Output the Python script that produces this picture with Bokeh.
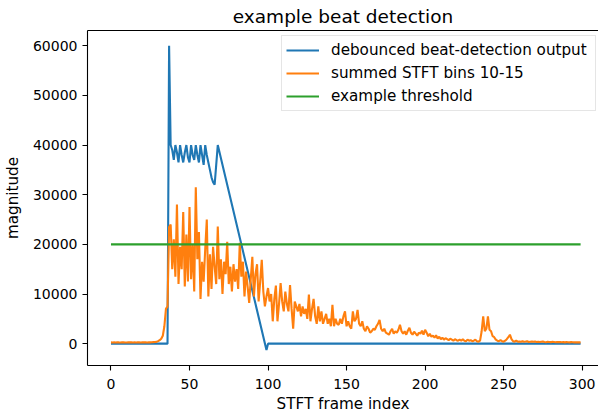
from bokeh.plotting import figure
from bokeh.models import FixedTicker, LinearAxis, Range1d, Legend, LegendItem, BasicTickFormatter
from bokeh.embed import file_html
from bokeh.resources import INLINE

# ---------------- data ----------------
title_text = "example beat detection"
x_label = "STFT frame index"
y_label = "magnitude"
series_names = ["debounced beat-detection output", "summed STFT bins 10-15", "example threshold"]
series_colors = ["#1f77b4", "#ff7f0e", "#2ca02c"]

x_ticks = [0, 50, 100, 150, 200, 250, 300]
y_ticks = [0, 10000, 20000, 30000, 40000, 50000, 60000]

# debounced beat detection output (vertices of the line)
beat_x = [0, 36, 37, 38, 39, 40, 41, 42, 43, 44, 45, 46, 47, 48, 49, 50, 51, 52, 53, 54,
          55, 56, 57, 58, 59, 60, 61, 62, 63, 64, 65, 66, 67, 68, 99, 100, 299]
beat_y = [0, 0, 60000, 40000, 39000, 37000, 40000, 38500, 36500, 40000, 38000, 36500, 38500,
          40000, 37500, 36500, 40000, 38000, 37000, 40000, 38000, 36500, 40000, 38000, 36000,
          40000, 38000, 36500, 35000, 33500, 32500, 32000, 36000, 40000, -1300, 0, 0]

# summed STFT bins 10-15, one value per frame 0..299
stft_sum = [
    260, 240, 250, 230, 270, 250, 240, 260, 250, 230,
    240, 260, 250, 270, 240, 250, 230, 260, 250, 240,
    260, 250, 270, 240, 250, 260, 280, 300, 320, 350,
    500, 700, 1000, 1600, 3500, 7000, 7500, 23500, 24000, 15000,
    21000, 13500, 28000, 12000, 19500, 15000, 26500, 11500, 22000, 12500,
    27500, 13000, 20000, 10500, 31500, 17000, 22500, 9000, 16500, 12500,
    19000, 25000, 9500, 18000, 11000, 19500, 15500, 12000, 23600, 13000,
    17000, 10000, 16500, 14000, 20500, 12000, 15500, 10500, 16000, 12500,
    15000, 11000, 20300, 13500, 16500, 9500, 14500, 11500, 8200, 13000,
    17500, 9500, 14000, 16000, 8500, 12500, 16900, 10500, 7500, 9500,
    11200, 8500, 10000, 4500, 9000, 11700, 4500, 8000, 12200, 8500,
    6500, 10500, 8000, 6500, 11800, 7000, 3000, 8500, 7500, 6500,
    8000, 5500, 7500, 6000, 7000, 5000, 9900, 4500, 7000, 9000,
    5500, 4000, 7500, 4500, 6500, 4000, 5000, 6000, 4000, 5000,
    3500, 7800, 3500, 5000, 4000, 3800, 5000, 4000, 5500, 6500,
    3500, 4500, 3500, 3000, 6500, 4500, 5000, 6800, 4000, 3500,
    4500, 3000, 2500, 3500, 3000, 2200, 2500, 3000, 2800, 3500,
    4000, 4800, 3000, 2500, 3000, 2200, 2000, 1800, 2500, 3000,
    2000, 2500, 2200, 2800, 3800, 2500, 2000, 2500, 1800, 2600,
    3200, 2200, 1800, 2400, 2000, 1600, 2200, 2000, 2600, 1800,
    2800, 2200, 1500, 2000, 1400, 1600, 1200, 1700, 1000, 1400,
    900, 1200, 800, 1100, 900, 700, 1000, 800, 600, 900,
    700, 600, 800, 600, 900, 600, 500, 800, 600, 700,
    500, 600, 800, 500, 400, 600, 2500, 5500, 2500, 3000,
    5500, 2800, 2500, 1500, 1300, 800, 600, 500, 700, 500,
    400, 600, 900, 1300, 1800, 900, 500, 400, 600, 400,
    450, 400, 500, 380, 420, 480, 350, 400, 450, 380,
    420, 350, 400, 330, 380, 420, 350, 300, 380, 340,
    300, 360, 320, 280, 340, 300, 320, 280, 300, 260,
    300, 280, 260, 300, 270, 250, 290, 260, 250, 260,
]
stft_x = list(range(len(stft_sum)))

threshold_value = 20000
threshold_x = [0, 299]
threshold_y = [threshold_value, threshold_value]

# ---------------- figure ----------------
FONT = "DejaVu Sans"

p = figure(frame_width=511, frame_height=335,
           min_border_left=81, min_border_right=0, min_border_top=30, min_border_bottom=45,
           x_range=Range1d(-14.95, 310.4), y_range=Range1d(-4400, 63070),
           output_backend="svg", toolbar_location=None, title=title_text)

p.title.text_font = FONT
p.title.text_font_size = "18.5px"
p.title.text_font_style = "normal"
p.title.align = "center"
p.title.standoff = 7
p.title.offset = 0
p.title.text_color = "black"

p.outline_line_color = None
p.grid.visible = False
p.background_fill_color = "white"
p.border_fill_color = "white"

for ax in (p.xaxis[0], p.yaxis[0]):
    ax.axis_line_width = 1.1
    ax.axis_line_color = "black"
    ax.major_tick_line_width = 1.1
    ax.major_tick_line_color = "black"
    ax.major_tick_out = 5
    ax.major_tick_in = 0
    ax.minor_tick_line_color = None
    ax.major_label_text_font = FONT
    ax.major_label_text_font_size = "14px"
    ax.major_label_text_color = "black"
    ax.major_label_standoff = 5
    ax.axis_label_text_font = FONT
    ax.axis_label_text_font_size = "15.2px"
    ax.axis_label_text_font_style = "normal"
    ax.axis_label_text_color = "black"

p.xaxis.ticker = FixedTicker(ticks=x_ticks)
p.yaxis.ticker = FixedTicker(ticks=y_ticks)
p.yaxis.formatter = BasicTickFormatter(use_scientific=False)
p.xaxis.axis_label = x_label
p.yaxis.axis_label = y_label
p.xaxis.major_label_standoff = 8
p.xaxis.axis_label_standoff = 3
p.yaxis.axis_label_standoff = 8

top_axis = LinearAxis(ticker=FixedTicker(ticks=[]), major_label_text_font_size="0px",
                      major_tick_out=0, major_tick_in=0, minor_tick_line_color=None,
                      axis_line_width=1.1, axis_line_color="black")
p.add_layout(top_axis, "above")

r_beat = p.line(beat_x, beat_y, line_color=series_colors[0], line_width=2.1)
r_stft = p.line(stft_x, stft_sum, line_color=series_colors[1], line_width=2.1)
r_thr = p.line(threshold_x, threshold_y, line_color=series_colors[2], line_width=2.1)

legend = Legend(items=[LegendItem(label=series_names[0], renderers=[r_beat]),
                       LegendItem(label=series_names[1], renderers=[r_stft]),
                       LegendItem(label=series_names[2], renderers=[r_thr])],
                location=(194, 254), margin=0, padding=4, spacing=3,
                glyph_width=33, glyph_height=20, label_height=20, label_standoff=12,
                label_width=260,
                label_text_font=FONT, label_text_font_size="15.2px", label_text_color="black",
                border_line_color="#cccccc", border_line_width=1,
                background_fill_color="white", background_fill_alpha=0.8)
p.add_layout(legend, "center")

open("out.html", "w").write(file_html(p, INLINE))
